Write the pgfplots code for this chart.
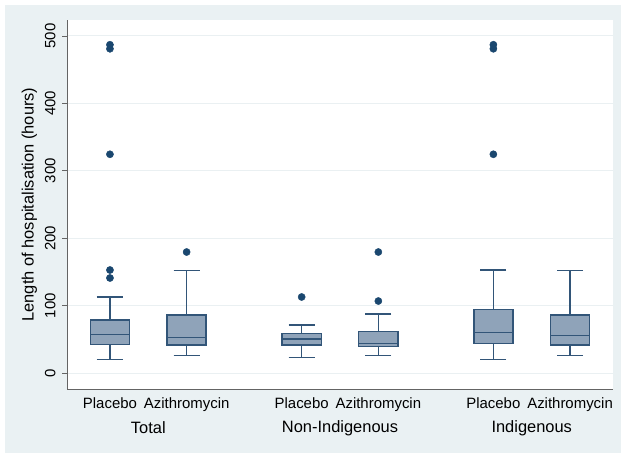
\documentclass[border=0pt]{standalone}
\usepackage{pgfplots}
\pgfplotsset{compat=1.18}
\usepgfplotslibrary{statistics}
\usepackage{fontspec}
\setmainfont{Liberation Sans}
\definecolor{bg}{RGB}{234,241,243}
\definecolor{navy}{RGB}{26,71,111}
\definecolor{boxfill}{RGB}{143,163,185}
\definecolor{boxline}{RGB}{50,85,120}
\definecolor{gridc}{RGB}{234,240,242}
\definecolor{axc}{RGB}{100,100,100}
\begin{document}
\begin{tikzpicture}
\fill[white] (0bp,0bp) rectangle (625bp,457bp);
\fill[bg] (5bp,4bp) rectangle (621bp,452bp);
\begin{axis}[
  at={(67bp,68bp)}, anchor=south west,
  scale only axis, width=546bp, height=369bp,
  xmin=-0.56, xmax=6.56, ymin=-23.7, ymax=523.7,
  axis lines*=left,
  axis line style={axc, line width=1pt},
  axis background/.style={fill=white},
  ytick={0,100,200,300,400,500},
  ymajorgrids, grid style={gridc, line width=1pt},
  ytick style={axc, line width=0.8pt},
  tick align=outside, major tick length=5bp,
  yticklabel style={rotate=90, anchor=south, font=\fontsize{15}{17}\selectfont},
  yticklabel shift=3bp,
  /pgf/number format/assume math mode=true,
  xtick={0,1,2.5,3.5,5,6},
  xticklabels={Placebo,Azithromycin,Placebo,Azithromycin,Placebo,Azithromycin},
  xtick style={draw=none},
  xticklabel style={font=\fontsize{15}{17}\selectfont},
  ylabel={Length of hospitalisation (hours)},
  ylabel style={font=\fontsize{16.5}{18}\selectfont, xshift=0bp, yshift=1bp},
  clip=false,
  boxplot/draw direction=y,
  boxplot/box extend=0.51,
  boxplot/whisker extend=0.34,
  boxplot/every box/.style={draw=boxline, fill=boxfill, line width=1.4pt},
  boxplot/every whisker/.style={draw=boxline, line width=1.4pt},
  boxplot/every median/.style={draw=boxline, line width=1.4pt},
]
\addplot[boxplot prepared={draw direction=y, draw position=0, lower whisker=20.3, lower quartile=42, median=56.8, upper quartile=78.7, upper whisker=112.8}, draw=boxline, fill=boxfill, line width=1.4pt] coordinates {};
\addplot[boxplot prepared={draw direction=y, draw position=1, lower whisker=26.2, lower quartile=41.5, median=52.4, upper quartile=86, upper whisker=152.4}, draw=boxline, fill=boxfill, line width=1.4pt] coordinates {};
\addplot[boxplot prepared={draw direction=y, draw position=2.5, lower whisker=22.8, lower quartile=41.5, median=50.4, upper quartile=58.3, upper whisker=71.2}, draw=boxline, fill=boxfill, line width=1.4pt] coordinates {};
\addplot[boxplot prepared={draw direction=y, draw position=3.5, lower whisker=26.2, lower quartile=39, median=44, upper quartile=61.3, upper whisker=87.5}, draw=boxline, fill=boxfill, line width=1.4pt] coordinates {};
\addplot[boxplot prepared={draw direction=y, draw position=5, lower whisker=20.3, lower quartile=43.5, median=60.3, upper quartile=94, upper whisker=152.8}, draw=boxline, fill=boxfill, line width=1.4pt] coordinates {};
\addplot[boxplot prepared={draw direction=y, draw position=6, lower whisker=26.2, lower quartile=41.5, median=55.9, upper quartile=86, upper whisker=152.4}, draw=boxline, fill=boxfill, line width=1.4pt] coordinates {};
\addplot[only marks, mark=*, mark size=3.6bp, mark options={draw=navy, fill=navy}] coordinates {
(0,141) (0,152.8) (0,324.5) (0,481) (0,487)
(1,179.5)
(2.5,112.8)
(3.5,106.8) (3.5,179.5)
(5,324.5) (5,481) (5,487)
};
\node[font=\fontsize{16.5}{18}\selectfont] at (axis cs:0.5,-23.7) [yshift=-39bp] {Total};
\node[font=\fontsize{16.5}{18}\selectfont] at (axis cs:3,-23.7) [yshift=-39bp] {Non-Indigenous};
\node[font=\fontsize{16.5}{18}\selectfont] at (axis cs:5.5,-23.7) [yshift=-39bp] {Indigenous};
\end{axis}
\end{tikzpicture}
\end{document}
